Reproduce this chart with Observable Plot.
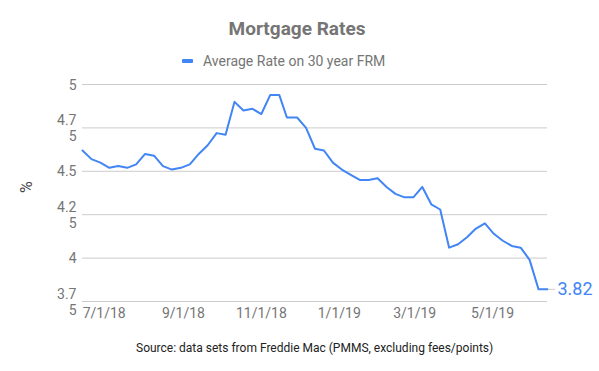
<!DOCTYPE html>
<html><head><meta charset="utf-8">
<script src="https://cdn.jsdelivr.net/npm/d3@7"></script>
<script src="https://cdn.jsdelivr.net/npm/@observablehq/plot@0.6"></script>
<style>
body{margin:0;background:#fff;font-family:Roboto,sans-serif;}
#wrap{position:relative;width:599px;height:371px;overflow:hidden;}
#chart{position:absolute;left:0;top:0;}
.t{position:absolute;white-space:nowrap;line-height:1;}
#title{left:0;width:594px;top:19px;text-align:center;font-weight:bold;font-size:19px;color:#757575;}
#legline{position:absolute;left:182px;top:59px;width:11px;height:4px;background:#4285f4;border-radius:1px;}
#legtext{left:203px;top:54px;font-size:14px;color:#757575;}
#caption{left:136px;top:342px;font-size:12px;color:#222;}
</style></head>
<body>
<div id="wrap">
  <div id="chart"></div>
  <div class="t" id="title">Mortgage Rates</div>
  <div id="legline"></div>
  <div class="t" id="legtext">Average Rate on 30 year FRM</div>
  <div class="t" id="caption">Source: data sets from Freddie Mac (PMMS, excluding fees/points)</div>
</div>
<script>
const dates = ["2018-06-14","2018-06-21","2018-06-28","2018-07-05","2018-07-12","2018-07-19","2018-07-26","2018-08-02","2018-08-09","2018-08-16","2018-08-23","2018-08-30","2018-09-06","2018-09-13","2018-09-20","2018-09-27","2018-10-04","2018-10-11","2018-10-18","2018-10-25","2018-11-01","2018-11-08","2018-11-15","2018-11-21","2018-11-29","2018-12-06","2018-12-13","2018-12-20","2018-12-27","2019-01-03","2019-01-10","2019-01-17","2019-01-24","2019-01-31","2019-02-07","2019-02-14","2019-02-21","2019-02-28","2019-03-07","2019-03-14","2019-03-21","2019-03-28","2019-04-04","2019-04-11","2019-04-18","2019-04-25","2019-05-02","2019-05-09","2019-05-16","2019-05-23","2019-05-30","2019-06-06","2019-06-13"];
const rates = [4.62,4.57,4.55,4.52,4.53,4.52,4.54,4.60,4.59,4.53,4.51,4.52,4.54,4.60,4.65,4.72,4.71,4.90,4.85,4.86,4.83,4.94,4.94,4.81,4.81,4.75,4.63,4.62,4.55,4.51,4.48,4.45,4.45,4.46,4.41,4.37,4.35,4.35,4.41,4.31,4.28,4.06,4.08,4.12,4.17,4.20,4.14,4.10,4.07,4.06,3.99,3.82,3.82];
const xTickDates = ["2018-07-01","2018-09-01","2018-11-01","2019-01-01","2019-03-01","2019-05-01"];
const yTicks = [3.75, 4, 4.25, 4.5, 4.75, 5];
const yTickLabels = ["3.7\n5", "4", "4.2\n5", "4.5", "4.7\n5", "5"];
const yLabel = "%";

const parse = d3.utcParse("%Y-%m-%d");
const data = dates.map((d, i) => ({date: parse(d), rate: rates[i]}));
const xTicks = xTickDates.map(parse);
const last = data[data.length - 1];

const chart = Plot.plot({
  width: 599, height: 371,
  marginLeft: 82, marginRight: 52, marginTop: 84, marginBottom: 70,
  style: {fontFamily: "Roboto, sans-serif", background: "transparent", overflow: "visible"},
  x: {type: "utc", domain: [data[0].date, last.date]},
  y: {domain: [3.75, 5]},
  marks: [
    Plot.gridY(yTicks, {stroke: "#cccccc", strokeOpacity: 1, strokeWidth: 1}),
    Plot.axisY(yTicks, {tickSize: 0, tickPadding: 6, fontSize: 14, fill: "#757575", lineHeight: 1.15,
      tickFormat: d => yTickLabels[yTicks.indexOf(d)], label: null}),
    Plot.axisX(xTicks, {tickSize: 0, tickPadding: 7, fontSize: 14, fill: "#757575",
      tickFormat: d3.utcFormat("%-m/%-d/%y"), label: null}),
    Plot.text([yLabel], {frameAnchor: "left", dx: -56, rotate: -90, fontSize: 16, fill: "#444", text: d => d}),
    Plot.lineY(data, {x: "date", y: "rate", stroke: "#4285f4", strokeWidth: 2}),
    Plot.ruleY([last], {y: "rate", x1: "date", x2: "date", insetLeft: 1, insetRight: -8, stroke: "#cccccc"}),
    Plot.text([last], {x: "date", y: "rate", text: d => d3.format(".2f")(d.rate), dx: 10, textAnchor: "start", fill: "#4285f4", fontSize: 18})
  ]
});
document.getElementById("chart").appendChild(chart);
</script>
</body></html>
